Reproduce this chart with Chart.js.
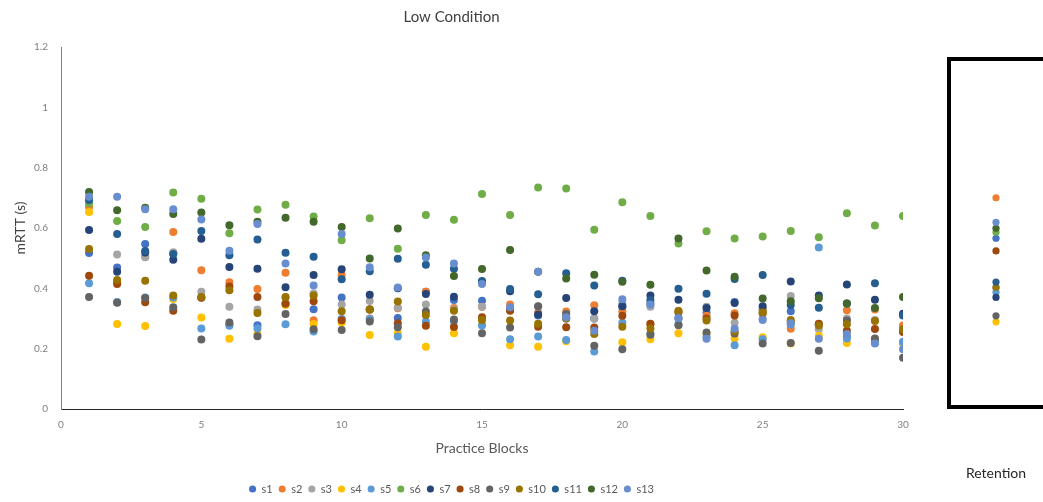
<!DOCTYPE html>
<html>
<head>
<meta charset="utf-8">
<script src="https://cdn.jsdelivr.net/npm/chart.js@4.4.1/dist/chart.umd.min.js"></script>
<style>
  html, body { margin: 0; padding: 0; background: #fff; }
  #wrap { position: relative; width: 1043px; height: 502px; overflow: hidden; background: #fff; }
  #mainBox { position: absolute; left: 0; top: 0; width: 920px; height: 502px; }
  #retFrame { position: absolute; left: 947px; top: 57px; width: 120px; height: 344px; border: 4px solid #000; }
  #retBox { position: absolute; left: 949px; top: 0; width: 94px; height: 502px; }
</style>
</head>
<body>
<div id="wrap">
  <div id="mainBox"><canvas id="main" width="920" height="502"></canvas></div>
  <div id="retFrame"></div>
  <div id="retBox"><canvas id="ret" width="94" height="502"></canvas></div>
</div>
<script>
// Practice blocks on the x axis
const blocks = [1, 2, 3, 4, 5, 6, 7, 8, 9, 10, 11, 12, 13, 14, 15, 16, 17, 18, 19, 20, 21, 22, 23, 24, 25, 26, 27, 28, 29, 30];

// Subject labels
const subjects = ['s1', 's2', 's3', 's4', 's5', 's6', 's7', 's8', 's9', 's10', 's11', 's12', 's13'];

// mRTT (s) per practice block, one array per subject
const s1  = [0.517, 0.469, 0.547, 0.515, 0.370, 0.280, 0.278, 0.350, 0.331, 0.370, 0.330, 0.302, 0.389, 0.361, 0.359, 0.330, 0.310, 0.300, 0.300, 0.340, 0.350, 0.300, 0.320, 0.355, 0.330, 0.324, 0.280, 0.240, 0.220, 0.220];
const s2  = [0.670, 0.420, 0.505, 0.587, 0.460, 0.420, 0.398, 0.452, 0.294, 0.444, 0.300, 0.334, 0.389, 0.335, 0.339, 0.346, 0.320, 0.323, 0.344, 0.324, 0.280, 0.325, 0.309, 0.317, 0.328, 0.266, 0.280, 0.327, 0.330, 0.277];
const s3  = [0.690, 0.512, 0.503, 0.520, 0.389, 0.339, 0.330, 0.370, 0.383, 0.346, 0.358, 0.336, 0.346, 0.330, 0.339, 0.330, 0.340, 0.315, 0.299, 0.350, 0.339, 0.300, 0.339, 0.286, 0.300, 0.375, 0.264, 0.300, 0.295, 0.260];
const s4  = [0.653, 0.282, 0.275, 0.365, 0.303, 0.233, 0.249, 0.345, 0.282, 0.287, 0.245, 0.251, 0.206, 0.251, 0.280, 0.211, 0.206, 0.225, 0.260, 0.221, 0.231, 0.251, 0.250, 0.234, 0.238, 0.217, 0.243, 0.219, 0.230, 0.220];
const s5  = [0.417, 0.355, 0.370, 0.370, 0.267, 0.276, 0.267, 0.281, 0.257, 0.298, 0.298, 0.240, 0.290, 0.290, 0.277, 0.231, 0.240, 0.229, 0.191, 0.286, 0.250, 0.280, 0.240, 0.211, 0.231, 0.280, 0.535, 0.234, 0.225, 0.223];
const s6  = [0.682, 0.623, 0.603, 0.718, 0.697, 0.583, 0.661, 0.677, 0.638, 0.559, 0.632, 0.531, 0.643, 0.627, 0.713, 0.643, 0.734, 0.731, 0.594, 0.685, 0.640, 0.549, 0.589, 0.565, 0.572, 0.590, 0.569, 0.649, 0.608, 0.640];
const s7  = [0.593, 0.455, 0.519, 0.495, 0.564, 0.471, 0.465, 0.404, 0.444, 0.463, 0.379, 0.400, 0.381, 0.372, 0.420, 0.390, 0.313, 0.368, 0.324, 0.341, 0.376, 0.362, 0.335, 0.351, 0.341, 0.423, 0.376, 0.413, 0.362, 0.316];
const s8  = [0.442, 0.414, 0.354, 0.326, 0.369, 0.406, 0.371, 0.349, 0.357, 0.294, 0.330, 0.284, 0.276, 0.272, 0.304, 0.326, 0.273, 0.271, 0.270, 0.309, 0.283, 0.320, 0.300, 0.310, 0.317, 0.290, 0.283, 0.259, 0.265, 0.255];
const s9  = [0.371, 0.352, 0.368, 0.337, 0.230, 0.287, 0.241, 0.315, 0.264, 0.262, 0.290, 0.271, 0.323, 0.297, 0.251, 0.270, 0.341, 0.315, 0.210, 0.198, 0.246, 0.278, 0.254, 0.250, 0.217, 0.219, 0.193, 0.293, 0.234, 0.170];
const s10 = [0.530, 0.428, 0.425, 0.376, 0.371, 0.394, 0.318, 0.371, 0.376, 0.324, 0.330, 0.356, 0.312, 0.326, 0.295, 0.293, 0.283, 0.300, 0.249, 0.273, 0.267, 0.325, 0.293, 0.257, 0.320, 0.295, 0.277, 0.281, 0.292, 0.264];
const s11 = [0.693, 0.580, 0.524, 0.514, 0.590, 0.510, 0.562, 0.518, 0.505, 0.430, 0.457, 0.498, 0.478, 0.465, 0.424, 0.398, 0.380, 0.450, 0.409, 0.425, 0.361, 0.399, 0.382, 0.431, 0.444, 0.345, 0.336, 0.350, 0.417, 0.310];
const s12 = [0.719, 0.659, 0.667, 0.646, 0.651, 0.609, 0.621, 0.634, 0.621, 0.603, 0.499, 0.598, 0.510, 0.441, 0.464, 0.527, 0.455, 0.433, 0.445, 0.422, 0.412, 0.565, 0.459, 0.438, 0.366, 0.357, 0.367, 0.350, 0.335, 0.371];
const s13 = [0.704, 0.704, 0.662, 0.662, 0.628, 0.525, 0.613, 0.482, 0.409, 0.580, 0.470, 0.403, 0.502, 0.482, 0.414, 0.337, 0.455, 0.304, 0.259, 0.364, 0.346, 0.302, 0.233, 0.266, 0.295, 0.284, 0.233, 0.249, 0.217, 0.198];

// Retention test mRTT (s), in subject order s1..s13
const retention = [0.566, 0.700, 0.400, 0.289, 0.387, 0.586, 0.370, 0.524, 0.309, 0.404, 0.421, 0.599, 0.619];

// Axis tick labels
const xTickLabels = ['0', '5', '10', '15', '20', '25', '30'];
const yTickLabels = ['0', '0.2', '0.4', '0.6', '0.8', '1', '1.2'];

const seriesValues = [s1, s2, s3, s4, s5, s6, s7, s8, s9, s10, s11, s12, s13];
const colors = ['#4472C4', '#ED7D31', '#A5A5A5', '#FFC000', '#5B9BD5', '#70AD47',
                '#264478', '#9E480E', '#636363', '#997300', '#255E91', '#43682B', '#698ED0'];

const FONT = 'Lato, "Open Sans", "Liberation Sans", sans-serif';
Chart.defaults.font.family = FONT;
Chart.defaults.devicePixelRatio = 1;

// Later subjects sit on top of earlier ones
const mainDatasets = subjects.map((name, i) => ({
  label: name,
  data: blocks.map((b, j) => ({ x: b, y: seriesValues[i][j] })),
  backgroundColor: colors[i],
  borderColor: colors[i],
  pointRadius: 4,
  pointHoverRadius: 4,
  pointBorderWidth: 0,
  order: subjects.length - i
}));

new Chart(document.getElementById('main'), {
  type: 'scatter',
  data: { datasets: mainDatasets },
  options: {
    responsive: false,
    animation: false,
    events: [],
    layout: { padding: { left: 0, right: 17, top: 0, bottom: -2.5 } },
    plugins: {
      title: {
        display: true,
        text: 'Low Condition',
        color: '#404040',
        font: { size: 15, weight: 'normal' },
        padding: { top: 8, bottom: 21 }
      },
      legend: {
        display: true,
        position: 'bottom',
        labels: {
          usePointStyle: true,
          pointStyle: 'circle',
          boxWidth: 7,
          boxHeight: 5,
          padding: 6,
          color: '#595959',
          font: { size: 11 },
          sort: (a, b) => a.datasetIndex - b.datasetIndex
        }
      },
      tooltip: { enabled: false }
    },
    scales: {
      x: {
        type: 'linear',
        min: 0,
        max: 30,
        afterBuildTicks: (scale) => { scale.ticks = xTickLabels.map(t => ({ value: Number(t) })); },
        ticks: {
          color: '#7f7f7f',
          font: { size: 10 },
          padding: 10,
          maxRotation: 0,
          callback: (v, i) => xTickLabels[i]
        },
        grid: { display: false, drawTicks: false },
        border: { display: true, color: '#262626', width: 1 },
        title: {
          display: true,
          text: 'Practice Blocks',
          color: '#595959',
          font: { size: 14 },
          padding: { top: 0, bottom: 21 }
        },
        afterFit: (scale) => { scale.height = 68.5; }
      },
      y: {
        type: 'linear',
        min: 0,
        max: 1.2,
        afterBuildTicks: (scale) => { scale.ticks = yTickLabels.map(t => ({ value: Number(t) })); },
        ticks: {
          color: '#7f7f7f',
          font: { size: 10 },
          padding: 13,
          callback: (v, i) => yTickLabels[i]
        },
        grid: { display: false, drawTicks: false },
        border: { display: true, color: '#808080', width: 1 },
        title: {
          display: true,
          text: 'mRTT (s)',
          color: '#404040',
          font: { size: 14 },
          padding: { top: 12, bottom: 0 }
        },
        afterFit: (scale) => { scale.width = 61; }
      }
    }
  }
});

// Retention panel: same value scale, one category named by the axis title
const retDatasets = subjects.map((name, i) => ({
  label: name,
  data: [retention[i]],
  backgroundColor: colors[i],
  borderColor: colors[i],
  showLine: false,
  pointRadius: 3.6,
  pointHoverRadius: 3.6,
  pointBorderWidth: 0,
  order: subjects.length - i
}));

new Chart(document.getElementById('ret'), {
  type: 'line',
  data: { labels: ['Retention'], datasets: retDatasets },
  options: {
    responsive: false,
    animation: false,
    events: [],
    layout: { padding: { left: 0, right: 0, top: 47, bottom: 0 } },
    plugins: { legend: { display: false }, title: { display: false }, tooltip: { enabled: false } },
    scales: {
      x: {
        type: 'category',
        offset: true,
        ticks: { display: false },
        grid: { display: false, drawTicks: false },
        border: { display: false },
        title: {
          display: true,
          text: 'Retention',
          color: '#262626',
          font: { size: 14 },
          padding: { top: 0, bottom: 20.5 }
        },
        afterFit: (scale) => { scale.height = 93; }
      },
      y: { display: false, min: 0, max: 1.2 }
    }
  }
});
</script>
</body>
</html>
